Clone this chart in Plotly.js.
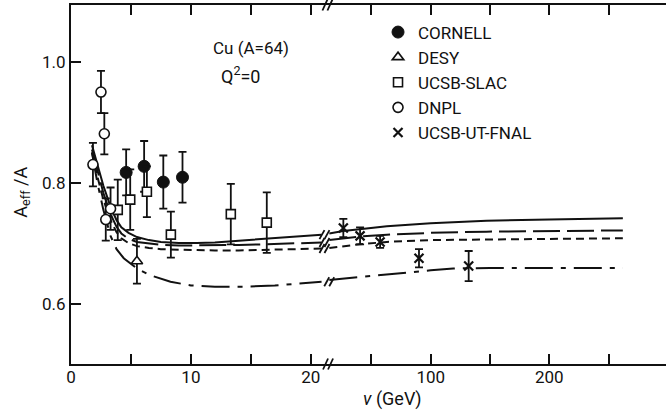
<!DOCTYPE html>
<html>
<head>
<meta charset="utf-8">
<script src="https://cdn.plot.ly/plotly-3.0.1.min.js"></script>
<style>html,body{margin:0;padding:0;background:#fff;}#chart{width:671px;height:410px;}</style>
</head>
<body>
<div id="chart"></div>
<script>
// ---- data ----
// curves, low-energy part (left axis, nu in GeV)
const nuLow = [1.75, 2.2, 2.7, 3.3, 3.8, 4.2, 4.8, 5.5, 6.5, 7.5, 9, 10.5, 12, 14, 16, 18, 20.9];
const solidLow   = [0.862, 0.830, 0.795, 0.760, 0.738, 0.726, 0.717, 0.710, 0.705, 0.702, 0.700, 0.700, 0.701, 0.704, 0.707, 0.710, 0.714];
const longLow    = [0.855, 0.820, 0.783, 0.748, 0.727, 0.716, 0.707, 0.702, 0.699, 0.697, 0.696, 0.696, 0.696, 0.697, 0.698, 0.699, 0.701];
const shortLow   = [0.850, 0.810, 0.772, 0.738, 0.718, 0.708, 0.700, 0.695, 0.692, 0.690, 0.689, 0.688, 0.688, 0.688, 0.689, 0.690, 0.691];
const nuLowDD    = [1.75, 2.2, 2.7, 3.3, 3.8, 4.4, 5.5, 6.6, 8.3, 10, 12, 14.7, 17, 19, 20.9];
const dashDotLow = [0.850, 0.800, 0.755, 0.712, 0.690, 0.675, 0.658, 0.647, 0.636, 0.630, 0.628, 0.628, 0.630, 0.633, 0.636];
// curves, high-energy part (right axis)
const nuHigh      = [14.5, 26, 40, 63, 100, 147, 200, 262];
const solidHigh   = [0.716, 0.720, 0.723, 0.728, 0.733, 0.737, 0.739, 0.741];
const longHigh    = [0.705, 0.708, 0.711, 0.714, 0.717, 0.719, 0.720, 0.721];
const shortHigh   = [0.692, 0.695, 0.698, 0.702, 0.705, 0.706, 0.707, 0.708];
const nuHighDD    = [14.5, 30, 63, 100, 119, 150, 200, 262];
const dashDotHigh = [0.639, 0.642, 0.649, 0.655, 0.658, 0.659, 0.659, 0.659];

// measurements
const cornellNu = [4.6, 6.1, 7.7, 9.3];
const cornellA  = [0.817, 0.827, 0.801, 0.809];
const cornellE  = [0.038, 0.042, 0.044, 0.042];
const desyNu = [5.5];
const desyA  = [0.670];
const desyE  = [0.037];
const slacNu = [3.9, 4.94, 6.33, 8.33, 13.33, 16.33];
const slacA  = [0.755, 0.772, 0.785, 0.714, 0.748, 0.734];
const slacE  = [0.050, 0.050, 0.042, 0.038, 0.050, 0.050];
const dnplNu = [1.83, 2.5, 2.78, 2.9, 3.3];
const dnplA  = [0.830, 0.950, 0.881, 0.739, 0.757];
const dnplE  = [0.036, 0.035, 0.034, 0.035, 0.035];
const fnalNu = [26.3, 40.4, 57.3, 90.1, 132];
const fnalA  = [0.725, 0.712, 0.702, 0.675, 0.662];
const fnalE  = [0.015, 0.014, 0.010, 0.015, 0.025];

const legendNames = ['CORNELL', 'DESY', 'UCSB-SLAC', 'DNPL', 'UCSB-UT-FNAL'];
const xTicksLow = [0, 10, 20];
const xTickTextLow = ['0', '10', '20'];
const xTicksHigh = [100, 200];
const xTickTextHigh = ['100', '200'];
const yTicks = [0.6, 0.8, 1.0];
const yTickText = ['0.6', '0.8', '1.0'];

// ---- chart ----
const FONT = 'Roboto, "Liberation Sans", Arial, sans-serif';
const BLK = '#111';
const BREAK = 0.432;   // paper position of the axis break
const YR = [0.5, 1.094];

function curve(x, y, xa, dash) {
  return {x: x, y: y, xaxis: xa, yaxis: 'y', mode: 'lines', showlegend: false, hoverinfo: 'skip',
          line: {color: BLK, width: 2, dash: dash}};
}
function pts(x, y, e, xa, name, symbol, fill, size, lw) {
  return {x: x, y: y, xaxis: xa, yaxis: 'y', mode: 'markers', name: name,
          error_y: {type: 'data', array: e, visible: true, color: BLK, thickness: 1.8, width: 4},
          marker: {symbol: symbol, size: size, color: fill, line: {color: BLK, width: lw}}};
}

const LD = '27px,7px', SD = '8px,5px', DD = '28px,8px,5px,8px';
const traces = [
  curve(nuLow, solidLow, 'x', 'solid'),
  curve(nuLow, longLow, 'x', LD),
  curve(nuLow, shortLow, 'x', SD),
  curve(nuLowDD, dashDotLow, 'x', DD),
  curve(nuHigh, solidHigh, 'x2', 'solid'),
  curve(nuHigh, longHigh, 'x2', LD),
  curve(nuHigh, shortHigh, 'x2', SD),
  curve(nuHighDD, dashDotHigh, 'x2', DD),
  pts(cornellNu, cornellA, cornellE, 'x', legendNames[0], 'circle', BLK, 12, 1),
  pts(desyNu, desyA, desyE, 'x', legendNames[1], 'triangle-up', '#fff', 10, 1.6),
  pts(slacNu, slacA, slacE, 'x', legendNames[2], 'square', '#fff', 9, 1.6),
  pts(dnplNu, dnplA, dnplE, 'x', legendNames[3], 'circle', '#fff', 10, 1.6),
  pts(fnalNu, fnalA, fnalE, 'x2', legendNames[4], 'x-thin-open', BLK, 9, 2.2)
];

function slash(xPaper, yref, yAnchor, h) {
  const s = [];
  [-2.5, 2.5].forEach(function (dx) {
    s.push({type: 'line', xref: 'paper', xsizemode: 'pixel', xanchor: xPaper,
            x0: dx - 2.5, x1: dx + 2.5,
            yref: yref, ysizemode: 'pixel', yanchor: yAnchor, y0: -h / 2, y1: h / 2,
            line: {color: BLK, width: 1.8}});
  });
  return s;
}
let shapes = [];
shapes = shapes.concat(slash(BREAK, 'paper', 0, 11));
shapes = shapes.concat(slash(BREAK - 0.001, 'paper', 1, 11));
// break marks on the curves, at the curves' values at the break
[solidLow, longLow, shortLow].forEach(function (c) {
  shapes = shapes.concat(slash(BREAK - 0.006, 'y', c[c.length - 1], 9));
});
shapes = shapes.concat(slash(BREAK + 0.002, 'y', dashDotLow[dashDotLow.length - 1], 9));

const axBase = {ticks: 'inside', ticklen: 10, tickwidth: 2, tickcolor: BLK, showline: true, linewidth: 2,
                linecolor: BLK, mirror: 'ticks', showgrid: false, zeroline: false,
                tickfont: {family: FONT, size: 17, color: BLK}, fixedrange: true};
const minorTicks = function (d) {
  return {ticks: 'inside', ticklen: 10, tickwidth: 2, tickcolor: BLK, dtick: d, tick0: 0, showgrid: false};
};

const layout = {
  width: 671, height: 410,
  margin: {l: 71, r: 5, t: 5, b: 46},
  paper_bgcolor: '#fff', plot_bgcolor: '#fff',
  font: {family: FONT, color: BLK},
  showlegend: true,
  legend: {x: 0.516, y: 0.9735, xanchor: 'left', yanchor: 'top', bgcolor: 'rgba(0,0,0,0)',
           font: {family: FONT, size: 17, color: BLK}, tracegroupgap: 0},
  xaxis: Object.assign({}, axBase, {domain: [0, BREAK], range: [0, 21.44], anchor: 'y',
                        tickmode: 'array', tickvals: xTicksLow, ticktext: xTickTextLow,
                        minor: minorTicks(5), ticklabelstandoff: -3}),
  xaxis2: Object.assign({}, axBase, {domain: [BREAK, 1], range: [13.4, 298.4], anchor: 'y',
                        tickmode: 'array', tickvals: xTicksHigh, ticktext: xTickTextHigh,
                        minor: minorTicks(50), ticklabelstandoff: -3}),
  yaxis: Object.assign({}, axBase, {range: YR, anchor: 'x', mirror: false,
                        tickmode: 'array', tickvals: yTicks, ticktext: yTickText}),
  yaxis2: Object.assign({}, axBase, {range: YR, anchor: 'x2', side: 'right', mirror: false,
                        tickmode: 'array', tickvals: yTicks, showticklabels: false}),
  shapes: shapes,
  annotations: [
    {text: 'Cu (A=64)', xref: 'paper', yref: 'paper', x: 0.3025, y: 0.880, xanchor: 'center', yanchor: 'middle',
     showarrow: false, font: {family: FONT, size: 17, color: BLK}},
    {text: 'Q<sup>2</sup>=0', xref: 'paper', yref: 'paper', x: 0.2857, y: 0.805, xanchor: 'center', yanchor: 'middle',
     showarrow: false, font: {family: FONT, size: 18, color: BLK}},
    {text: 'A<sub>eff</sub> /A', xref: 'paper', yref: 'paper', x: -0.083, y: 0.479, textangle: -90,
     xanchor: 'center', yanchor: 'middle', showarrow: false, font: {family: FONT, size: 18, color: BLK}},
    {text: '<i>ν</i> (GeV)', xref: 'paper', yref: 'paper', x: 0.54, y: -0.097, xanchor: 'center', yanchor: 'middle',
     showarrow: false, font: {family: FONT, size: 18, color: BLK}}
  ]
};

Plotly.newPlot('chart', traces, layout, {staticPlot: true, displayModeBar: false});
</script>
</body>
</html>
